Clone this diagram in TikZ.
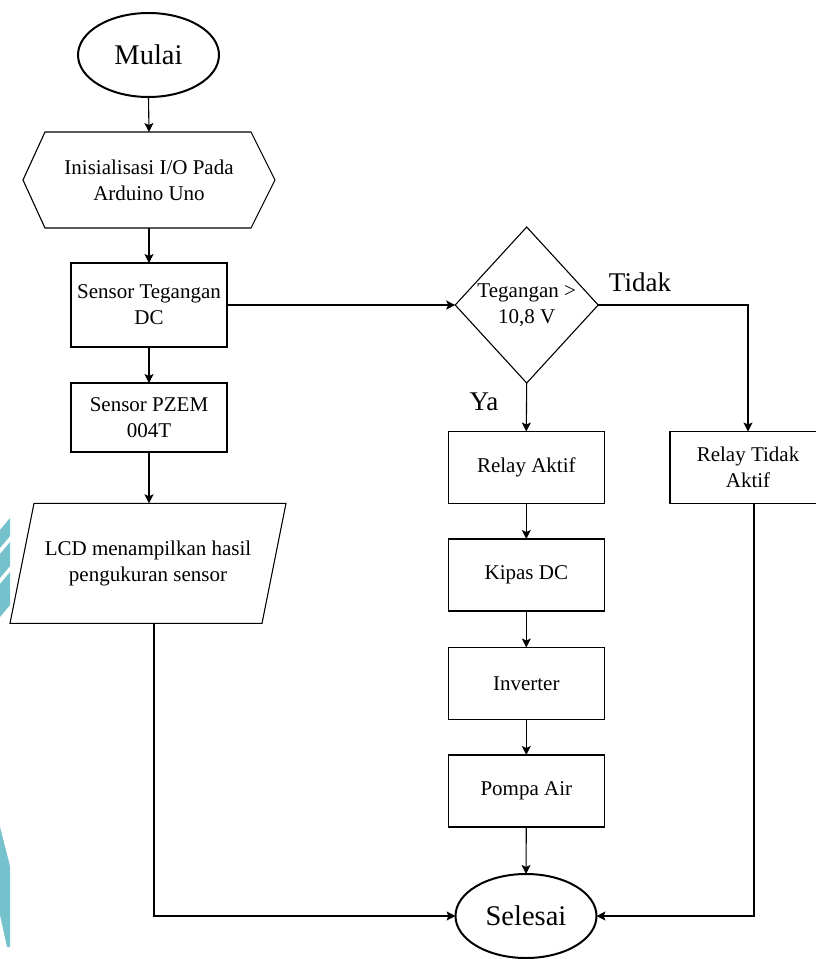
\documentclass[tikz,border=0pt]{standalone}
\usepackage{fontspec}
\setmainfont{Liberation Serif}
\usetikzlibrary{arrows.meta,shapes.geometric}
\definecolor{wm}{RGB}{118,194,204}
\begin{document}
\begin{tikzpicture}[x=1pt,y=-1pt,
  line width=1.1pt,
  every node/.style={inner sep=0pt, outer sep=0pt},
  txt/.style={font=\fontsize{21}{26}\selectfont, align=center},
  term/.style={ellipse, draw, line width=2pt, minimum width=141pt, minimum height=84pt, font=\fontsize{28.5}{34}\selectfont},
  proc/.style={rectangle, draw, minimum width=156pt, minimum height=72pt, txt},
  lbl/.style={font=\fontsize{27}{32}\selectfont},
  arr/.style={-{Stealth[length=9pt,width=9pt,inset=2pt]}}
]
\useasboundingbox (0,0) rectangle (816,959);
\clip (0,0) rectangle (816,959);
% watermark fragments at the left edge
\fill[wm] (10,518) -- (10,536) -- (0,548) -- (0,530) -- cycle;
\fill[wm] (10,542) -- (10,566) -- (0,578) -- (0,554) -- cycle;
\fill[wm] (10,572) -- (10,605) -- (0,617) -- (0,584) -- cycle;
\fill[wm] (0,827) -- (10,866) -- (10,947) -- (7,947) -- (0,915) -- cycle;

% nodes
\node[term] (start) at (148.5,55) {Mulai};
\node[txt, minimum width=252pt, minimum height=96pt] (init) at (149,180) {Inisialisasi I/O Pada\\Arduino Uno};
\draw (init.west) -- ([xshift=22pt]init.north west) -- ([xshift=-24pt]init.north east) -- (init.east) -- ([xshift=-24pt]init.south east) -- ([xshift=22pt]init.south west) -- cycle;
\node[proc, minimum height=84pt] (sv) at (149,305) {Sensor Tegangan\\DC};
\node[proc, minimum height=69pt] (pz) at (149,417.5) {Sensor PZEM\\004T};
\node[txt, minimum width=276pt, minimum height=120pt] (lcd) at (148,563.3) {LCD menampilkan hasil\\pengukuran sensor};
\draw ([xshift=24pt]lcd.north west) -- (lcd.north east) -- ([xshift=-24pt]lcd.south east) -- (lcd.south west) -- cycle;
\node[txt, minimum width=143pt, minimum height=156pt] (dec) at (526.7,305) {Tegangan >\\10,8 V};
\draw (dec.north) -- (dec.east) -- (dec.south) -- (dec.west) -- cycle;
\node[proc] (ra) at (526.3,467.5) {Relay Aktif};
\node[proc] (kp) at (526.3,575) {Kipas DC};
\node[proc] (inv) at (526.3,683.5) {Inverter};
\node[proc] (pa) at (526.3,791) {Pompa Air};
\node[proc] (rta) at (748,467.5) {Relay Tidak\\Aktif};
\node[term] (end) at (526,916) {Selesai};
\node[lbl] (tidak) at (640,282) {Tidak};
\node[lbl] (ya) at (484,402) {Ya};

% connectors
\draw[arr] (start.south) -- (init.north);
\draw[arr] (init.south) -- (sv.north);
\draw[arr] (sv.south) -- (pz.north);
\draw[arr] (pz.south) -- (pz.south |- lcd.north);
\draw[arr] (sv.east) -- (dec.west);
\draw[arr] (dec.south) -- (ra.north);
\draw[arr] (dec.east) -| (rta.north);
\draw[arr] (ra.south) -- (kp.north);
\draw[arr] (kp.south) -- (inv.north);
\draw[arr] (inv.south) -- (pa.north);
\draw[arr] (pa.south) -- (end.north);
\draw[arr] ([xshift=6pt]lcd.south) |- (end.west);
\draw[arr] ([xshift=6pt]rta.south) |- (end.east);
\end{tikzpicture}
\end{document}
